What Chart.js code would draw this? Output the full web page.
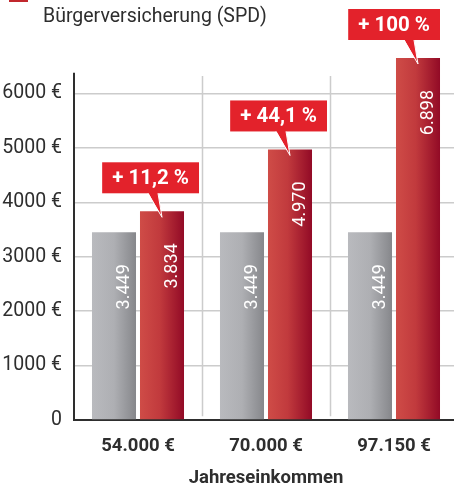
<!DOCTYPE html>
<html lang="de">
<head>
<meta charset="utf-8">
<title>Beitrag mit Bürgerversicherung</title>
<script src="https://cdn.jsdelivr.net/npm/chart.js@4.4.1/dist/chart.umd.min.js"></script>
<style>
  html, body { margin: 0; padding: 0; background: #fff; overflow: hidden; }
  #wrap { position: relative; width: 460px; height: 489px; }
</style>
</head>
<body>
<div id="wrap"><canvas id="chart" width="460" height="489"></canvas></div>
<script>
// Data
const incomeLabels = ["54.000 €", "70.000 €", "97.150 €"];
const todayValues = [3449, 3449, 3449];
const spdValues = [3834, 4970, 6898];
const increaseLabels = ["+ 11,2 %", "+ 44,1 %", "+ 100 %"];
const yTicks = [0, 1000, 2000, 3000, 4000, 5000, 6000];
const seriesNames = ["Heute", "Bürgerversicherung (SPD)"];

const FONT = "Roboto, 'DejaVu Sans', sans-serif";
const TEXT = "#2e2e2e";
const CAT_PCT = 0.75;
const BAR_PCT = 0.917;

const greyStops = [[0, "#b9babe"], [0.5, "#aeafb3"], [1, "#86878b"]];
const redStops = [[0, "#cf4c47"], [0.45, "#c13a3d"], [1, "#920a26"]];

// 3449 -> "3.449"
function formatValue(v) {
  return Math.floor(v / 1000) + "." + String(v % 1000).padStart(3, "0");
}

// horizontal gradient per bar, computed from the category scale
function barGradient(ctx, stops) {
  const chart = ctx.chart;
  const x = chart.scales.x;
  if (!chart.chartArea || !x || ctx.dataIndex === undefined) return stops[0][1];
  const step = x.getPixelForValue(1) - x.getPixelForValue(0);
  const slot = step * CAT_PCT / 2;
  const center = x.getPixelForValue(ctx.dataIndex) + (ctx.datasetIndex === 0 ? -slot / 2 : slot / 2);
  const half = slot * BAR_PCT / 2;
  const g = chart.ctx.createLinearGradient(center - half, 0, center + half, 0);
  stops.forEach(([o, c]) => g.addColorStop(o, c));
  return g;
}

// axis line + category separators
const framePlugin = {
  id: "frame",
  beforeDatasetsDraw(chart) {
    const { ctx, chartArea, scales } = chart;
    const x = scales.x, y = scales.y;
    ctx.save();
    ctx.strokeStyle = "#cccccc";
    ctx.lineWidth = 1.5;
    for (let i = 1; i < incomeLabels.length; i++) {
      const px = Math.round((x.getPixelForValue(i - 1) + x.getPixelForValue(i)) / 2) + 0.5;
      ctx.beginPath();
      ctx.moveTo(px, y.getPixelForValue(6320));
      ctx.lineTo(px, y.getPixelForValue(70));
      ctx.stroke();
    }
    ctx.strokeStyle = TEXT;
    ctx.lineWidth = 2;
    ctx.beginPath();
    ctx.moveTo(chartArea.left, y.getPixelForValue(6380));
    ctx.lineTo(chartArea.left, chartArea.bottom + 1);
    ctx.stroke();
    ctx.restore();
  }
};

// values inside bars, callouts, legend
const labelPlugin = {
  id: "labels",
  afterDatasetsDraw(chart) {
    const { ctx, chartArea } = chart;
    ctx.save();
    chart.data.datasets.forEach((ds, di) => {
      chart.getDatasetMeta(di).data.forEach((bar, i) => {
        const top = Math.max(bar.y, chartArea.top);
        ctx.save();
        ctx.translate(bar.x + 15, top + 32);
        ctx.rotate(-Math.PI / 2);
        ctx.fillStyle = "#ffffff";
        ctx.font = "18px " + FONT;
        ctx.textAlign = "right";
        ctx.textBaseline = "alphabetic";
        ctx.fillText(formatValue(ds.data[i]), 0, 0);
        ctx.restore();
      });
    });

    // callouts above the red bars
    const meta = chart.getDatasetMeta(1);
    ctx.font = "bold 20.5px " + FONT;
    meta.data.forEach((bar, i) => {
      const top = Math.max(bar.y, chartArea.top);
      const tipX = bar.x, tipY = top + 6;
      const boxH = 31;
      const boxBottom = top - 18;
      const boxTop = boxBottom - boxH;
      const boxW = ctx.measureText(increaseLabels[i]).width + 20;
      const boxRight = Math.min(bar.x + bar.width / 2 + 15, 440);
      const boxLeft = boxRight - boxW;
      ctx.fillStyle = "#e3222b";
      ctx.fillRect(boxLeft, boxTop, boxW, boxH);
      ctx.beginPath();
      ctx.moveTo(tipX - 14, boxBottom - 1);
      ctx.lineTo(tipX, tipY);
      ctx.lineTo(tipX - 4, boxBottom - 1);
      ctx.closePath();
      ctx.fill();
      ctx.strokeStyle = "#ffffff";
      ctx.lineWidth = 1;
      ctx.beginPath();
      ctx.moveTo(tipX - 14, boxBottom);
      ctx.lineTo(tipX, tipY);
      ctx.lineTo(tipX - 4, boxBottom);
      ctx.stroke();
      ctx.fillStyle = "#ffffff";
      ctx.textAlign = "center";
      ctx.textBaseline = "middle";
      ctx.fillText(increaseLabels[i], boxLeft + boxW / 2, boxTop + boxH / 2 + 1);
    });
    ctx.restore();
  },
  afterDraw(chart) {
    const ctx = chart.ctx;
    ctx.save();
    ctx.fillStyle = "#c1272d";
    ctx.fillRect(9, -16, 19, 18);
    ctx.fillStyle = TEXT;
    ctx.font = "19.5px " + FONT;
    ctx.textAlign = "left";
    ctx.textBaseline = "alphabetic";
    ctx.fillText(seriesNames[1], 43, 22);
    ctx.restore();
  }
};

new Chart(document.getElementById("chart"), {
  type: "bar",
  data: {
    labels: incomeLabels,
    datasets: [
      {
        label: seriesNames[0],
        data: todayValues,
        backgroundColor: (c) => barGradient(c, greyStops),
        categoryPercentage: CAT_PCT,
        barPercentage: BAR_PCT,
      },
      {
        label: seriesNames[1],
        data: spdValues,
        backgroundColor: (c) => barGradient(c, redStops),
        categoryPercentage: CAT_PCT,
        barPercentage: BAR_PCT,
      },
    ],
  },
  options: {
    responsive: false,
    animation: false,
    layout: { padding: { top: 58, right: 2, left: 0, bottom: 0 } },
    plugins: { legend: { display: false }, tooltip: { enabled: false } },
    scales: {
      x: {
        grid: { display: false },
        border: { display: true, color: TEXT, width: 2 },
        ticks: { color: TEXT, font: { family: FONT, size: 18.5, weight: "bold" }, padding: 7 },
        title: {
          display: true,
          text: "Jahreseinkommen",
          color: TEXT,
          font: { family: FONT, size: 18.5, weight: "bold" },
          padding: { top: 6, bottom: 0 },
        },
        afterFit: (s) => { s.height = 69; },
      },
      y: {
        min: 0,
        max: 6650,
        afterBuildTicks: (s) => { s.ticks = yTicks.map((v) => ({ value: v })); },
        grid: { color: "#cccccc", lineWidth: 1.5, drawTicks: false },
        border: { display: false },
        ticks: {
          color: TEXT,
          font: { family: FONT, size: 19.5 },
          padding: 12,
          callback: (v) => (v === 0 ? "0" : v + " €"),
        },
        afterFit: (s) => { s.width = 74; },
      },
    },
  },
  plugins: [framePlugin, labelPlugin],
});
</script>
</body>
</html>
